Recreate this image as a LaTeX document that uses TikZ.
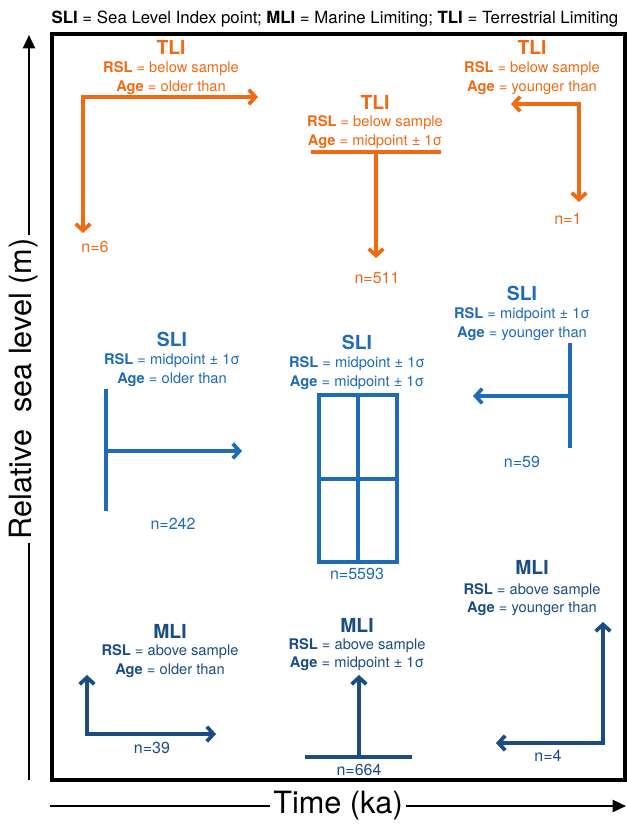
\documentclass[tikz,border=0pt]{standalone}
\usepackage{fontspec}
\setmainfont{TeX Gyre Heros}
\usetikzlibrary{arrows.meta}

\definecolor{tliorange}{RGB}{240,106,20}
\definecolor{sliblue}{RGB}{30,107,184}
\definecolor{mlinavy}{RGB}{28,76,132}

\tikzset{
  head/.style={inner sep=0pt,font=\fontsize{14.5}{16}\selectfont\bfseries},
  info/.style={inner sep=0pt,font=\fontsize{11}{13}\selectfont},
  count/.style={inner sep=0pt,font=\fontsize{12}{14}\selectfont},
  bar/.style={line width=2.8pt},
  flow/.style={bar,-{Straight Barb[length=5pt,width=11pt]}},
  twoflow/.style={bar,{Straight Barb[length=5pt,width=11pt]}-{Straight Barb[length=5pt,width=11pt]}},
  axis/.style={line width=1.8pt},
}

\begin{document}
\begin{tikzpicture}[x=0.75pt,y=0.75pt,yscale=-1,xscale=1]
    \useasboundingbox (0,0) rectangle (627,824);

    % Title
    \node (title) [inner sep=0pt,font=\fontsize{12.6}{14}\selectfont] at (335,19) {\textbf{SLI} = Sea Level Index point; \textbf{MLI} = Marine Limiting; \textbf{TLI} = Terrestrial Limiting};

    %Frame
    \draw [line width=2.8pt] (52,34) rectangle (625,780);

    %Axes
    \node (ylab) [inner sep=2pt,rotate=90,font=\fontsize{23}{25}\selectfont] at (24,389) {Relative\ \ sea level (m)};
    \coordinate (ybot) at (29,780);
    \coordinate (ytop) at (29,35);
    \draw [axis] (ybot) -- (ybot |- ylab.west);
    \draw [axis,-{Triangle[length=10pt,width=9pt]}] (ybot |- ylab.east) -- (ytop);
    \node (xlab) [inner sep=2pt,font=\fontsize{23}{25}\selectfont] at (338,806) {Time (ka)};
    \coordinate (xleft) at (50,806);
    \coordinate (xright) at (626,806);
    \draw [axis] (xleft) -- (xlab.west);
    \draw [axis,-{Triangle[length=10pt,width=9pt]}] (xlab.east) -- (xright);

    %TLI older than
    \begin{scope}[tliorange]
    \node (tloH) [head] at (171,47) {TLI};
    \node (tloR) [info] at (171,69) {\textbf{RSL} = below sample};
    \node (tloA) [info] at (171,88) {\textbf{Age} = older than};
    \coordinate (tloC) at (83,97);
    \coordinate (tloE) at (258,97);
    \coordinate (tloS) at (83,233);
    \draw [twoflow] (tloE) -- (tloC) -- (tloS);
    \node (tloN) [count] at (95,247) {n=6};
    \end{scope}

    %TLI midpoint
    \begin{scope}[tliorange]
    \node (tlmH) [head] at (375,102) {TLI};
    \node (tlmR) [info] at (375,123) {\textbf{RSL} = below sample};
    \node (tlmA) [info] at (375,142) {\textbf{Age} = midpoint ± 1σ};
    \coordinate (tlmL) at (311,152);
    \coordinate (tlmRt) at (441,152);
    \coordinate (tlmC) at (376,152);
    \coordinate (tlmS) at (376,258);
    \draw [bar] (tlmL) -- (tlmRt);
    \draw [flow] (tlmC) -- (tlmS);
    \node (tlmN) [count] at (377,278) {n=511};
    \end{scope}

    %TLI younger than
    \begin{scope}[tliorange]
    \node (tlyH) [head] at (532,47) {TLI};
    \node (tlyR) [info] at (532,69) {\textbf{RSL} = below sample};
    \node (tlyA) [info] at (532,88) {\textbf{Age} = younger than};
    \coordinate (tlyC) at (579,104);
    \coordinate (tlyW) at (511,104);
    \coordinate (tlyS) at (579,202);
    \draw [twoflow] (tlyW) -- (tlyC) -- (tlyS);
    \node (tlyN) [count] at (568,219) {n=1};
    \end{scope}

    %SLI older than
    \begin{scope}[sliblue]
    \node (sloH) [head] at (172,339) {SLI};
    \node (sloR) [info] at (172,361) {\textbf{RSL} = midpoint ± 1σ};
    \node (sloA) [info] at (172,380) {\textbf{Age} = older than};
    \coordinate (sloT) at (106,389);
    \coordinate (sloB) at (106,511);
    \coordinate (sloC) at (106,451);
    \coordinate (sloE) at (242,451);
    \draw [bar] (sloT) -- (sloB);
    \draw [flow] (sloC) -- (sloE);
    \node (sloN) [count] at (173,524) {n=242};
    \end{scope}

    %SLI midpoint
    \begin{scope}[sliblue]
    \node (slmH) [head] at (357,342) {SLI};
    \node (slmR) [info] at (357,364) {\textbf{RSL} = midpoint ± 1σ};
    \node (slmA) [info] at (357,383) {\textbf{Age} = midpoint ± 1σ};
    \coordinate (slmNW) at (319,395);
    \coordinate (slmSE) at (397,562);
    \coordinate (slmTop) at (358,395);
    \coordinate (slmBot) at (358,562);
    \coordinate (slmLft) at (319,479);
    \coordinate (slmRgt) at (397,479);
    \draw [bar] (slmNW) rectangle (slmSE);
    \draw [bar] (slmTop) -- (slmBot);
    \draw [bar] (slmLft) -- (slmRgt);
    \node (slmN) [count] at (357,574) {n=5593};
    \end{scope}

    %SLI younger than
    \begin{scope}[sliblue]
    \node (slyH) [head] at (522,293) {SLI};
    \node (slyR) [info] at (522,315) {\textbf{RSL} = midpoint ± 1σ};
    \node (slyA) [info] at (522,334) {\textbf{Age} = younger than};
    \coordinate (slyT) at (570,343);
    \coordinate (slyB) at (570,448);
    \coordinate (slyC) at (570,396);
    \coordinate (slyW) at (473,396);
    \draw [bar] (slyT) -- (slyB);
    \draw [flow] (slyC) -- (slyW);
    \node (slyN) [count] at (522,462) {n=59};
    \end{scope}

    %MLI older than
    \begin{scope}[mlinavy]
    \node (mloH) [head] at (170,631) {MLI};
    \node (mloR) [info] at (170,652) {\textbf{RSL} = above sample};
    \node (mloA) [info] at (170,671) {\textbf{Age} = older than};
    \coordinate (mloC) at (87,734);
    \coordinate (mloN) at (87,675);
    \coordinate (mloE) at (216,734);
    \draw [twoflow] (mloN) -- (mloC) -- (mloE);
    \node (mloK) [count] at (152,748) {n=39};
    \end{scope}

    %MLI midpoint
    \begin{scope}[mlinavy]
    \node (mlmH) [head] at (357,625) {MLI};
    \node (mlmR) [info] at (357,646) {\textbf{RSL} = above sample};
    \node (mlmA) [info] at (357,664) {\textbf{Age} = midpoint ± 1σ};
    \coordinate (mlmL) at (305,757);
    \coordinate (mlmRt) at (412,757);
    \coordinate (mlmC) at (359,757);
    \coordinate (mlmN) at (359,675);
    \draw [bar] (mlmL) -- (mlmRt);
    \draw [flow] (mlmC) -- (mlmN);
    \node (mlmK) [count] at (359,770) {n=664};
    \end{scope}

    %MLI younger than
    \begin{scope}[mlinavy]
    \node (mlyH) [head] at (532,567) {MLI};
    \node (mlyR) [info] at (532,591) {\textbf{RSL} = above sample};
    \node (mlyA) [info] at (532,609) {\textbf{Age} = younger than};
    \coordinate (mlyC) at (603,743);
    \coordinate (mlyN) at (603,622);
    \coordinate (mlyW) at (496,743);
    \draw [twoflow] (mlyN) -- (mlyC) -- (mlyW);
    \node (mlyK) [count] at (548,756) {n=4};
    \end{scope}

\end{tikzpicture}
\end{document}
